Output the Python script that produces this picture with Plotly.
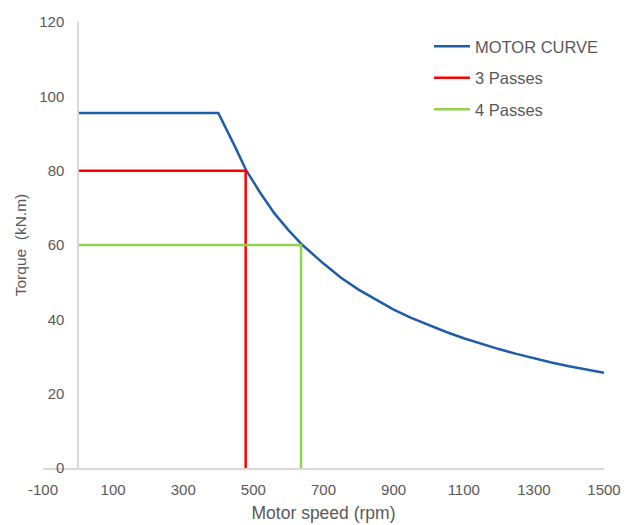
import plotly.graph_objects as go

# Motor curve
motor_speed = [0, 400, 450, 480, 520, 560, 600, 640, 700, 750, 800, 850, 900, 950,
               1000, 1050, 1100, 1150, 1200, 1250, 1300, 1350, 1400, 1450, 1500]
motor_torque = [95.5, 95.5, 86, 80, 74, 68.5, 64, 60, 55, 51.2, 48, 45.2, 42.6, 40.4,
                38.4, 36.6, 34.9, 33.4, 32, 30.7, 29.5, 28.4, 27.4, 26.5, 25.6]

pass3_speed = [0, 478, 478]
pass3_torque = [80, 80, 0]
pass4_speed = [0, 636, 636]
pass4_torque = [60, 60, 0]

x_ticks = [-100, 100, 300, 500, 700, 900, 1100, 1300, 1500]
x_tick_labels = ["-100", "100", "300", "500", "700", "900", "1100", "1300", "1500"]
y_ticks = [0, 20, 40, 60, 80, 100, 120]

FONT = "Liberation Sans, Arial, sans-serif"
GRAY = "#595959"

fig = go.Figure()
fig.add_trace(go.Scatter(x=motor_speed, y=motor_torque, mode="lines", name="MOTOR CURVE",
                         line=dict(color="#1F5DA8", width=2.5), legendgroup="a"))
fig.add_trace(go.Scatter(x=pass3_speed, y=pass3_torque, mode="lines", name="3 Passes",
                         line=dict(color="#FF0000", width=2.5), legendgroup="b"))
fig.add_trace(go.Scatter(x=pass4_speed, y=pass4_torque, mode="lines", name="4 Passes",
                         line=dict(color="#92D050", width=2.5), legendgroup="c"))

fig.update_layout(
    width=629, height=517,
    margin=dict(l=35, r=33, t=14, b=57),
    paper_bgcolor="white", plot_bgcolor="white",
    font=dict(family=FONT, size=15, color=GRAY),
    legend=dict(x=0.688, y=0.984, xanchor="left", yanchor="top",
                font=dict(size=16.5, color=GRAY), tracegroupgap=7, itemwidth=36,
                bgcolor="rgba(0,0,0,0)"),
    xaxis=dict(range=[-100, 1500], tickvals=x_ticks, ticktext=x_tick_labels,
               showgrid=False, zeroline=False, automargin=False,
               showline=True, linecolor="#D9D9D9", linewidth=1.5, ticks="",
               ticklabelstandoff=7,
               title=dict(text="Motor speed (rpm)", standoff=10,
                          font=dict(size=17.5, color=GRAY)),
               domain=[0, 1]),
    yaxis=dict(range=[0, 120], tickvals=y_ticks, showgrid=False, zeroline=False,
               automargin=False,
               showline=True, linecolor="#D9D9D9", linewidth=1.5, ticks="",
               anchor="free", position=100 / 1600, ticklabelstandoff=10,
               title=dict(text="Torque  (kN.m)", standoff=8,
                          font=dict(size=15.5, color=GRAY))),
)

fig.write_html("out.html")
